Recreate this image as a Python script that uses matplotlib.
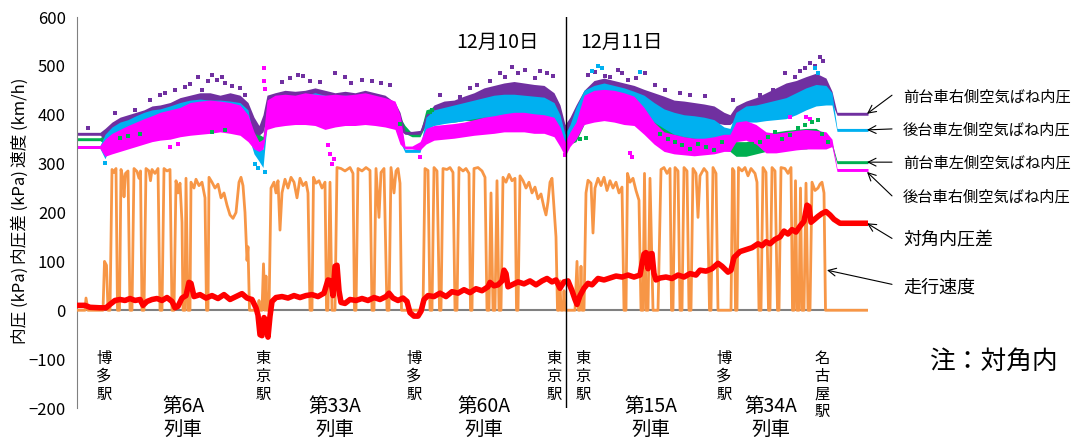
import matplotlib
matplotlib.use("Agg")
import matplotlib.pyplot as plt

plt.rcParams["font.family"] = ["Noto Sans CJK JP", "DejaVu Sans"]

# x axis = running position along the two days of service (arbitrary units)
# values on the shared y scale: km/h for speed, kPa for pressures

speed_pts = [
    (77, 0), (85, 0), (86, 25), (88, 0), (103, 0), (104.5, 100), (106.5, 92), (108, 0), (110, 0),
    (112, 288), (114, 282), (116, 290), (117.5, 0), (119.5, 0), (121, 288), (123, 270), (124, 232),
    (125.5, 280), (128, 285), (130, 0), (132, 0), (134, 290), (137, 284), (139, 270), (140.5, 285),
    (142, 0), (144, 0), (146, 290), (149, 285), (150.5, 265), (152, 288), (155, 280), (158, 290),
    (160, 0), (162, 0), (164, 290), (167, 285), (170, 288), (172, 0), (174, 0), (176, 265), (178, 240),
    (180, 260), (182, 180), (183, 0), (185, 0), (186, 270), (188, 0), (190, 0), (191, 262), (194, 250),
    (196, 268), (199, 255), (202, 262), (205, 230), (206.5, 0), (208, 0), (209, 272), (212, 262),
    (215, 250), (218, 258), (221, 230), (224, 240), (227, 215), (230, 195), (233, 188), (236, 200),
    (239, 262), (241, 272), (243, 255), (245, 200), (247, 102), (248, 130), (249.5, 0), (258, 0),
    (259, 20), (260, 0), (262, 0), (263.5, 95), (265, 0), (266, 70), (267, 0), (269, 0),
    (271, 250), (274, 262), (276, 240), (278, 265), (280, 164), (282, 240), (285, 268), (288, 250),
    (291, 272), (294, 262), (297, 230), (300, 270), (303, 255), (306, 262), (308, 240), (310, 0),
    (312, 0), (313.5, 272), (316, 260), (319, 265), (322, 250), (325, 262), (326.5, 0), (328, 0),
    (330, 262), (332, 0), (335, 0), (337, 292), (341, 290), (345, 285), (350, 292), (353, 280),
    (354.5, 0), (356, 0), (358, 290), (362, 285), (366, 292), (370, 286), (372, 0), (374, 0),
    (376, 290), (379, 190), (381, 282), (384, 290), (387, 0), (389, 0), (391, 292), (394, 240),
    (396, 285), (398, 290), (400, 260), (401.5, 0), (423, 0),
    (425, 290), (428, 286), (430, 0), (432, 0), (434, 292), (437, 285), (439.5, 0), (441, 0),
    (443, 290), (447, 288), (450, 292), (453, 282), (455, 0), (457, 0), (459, 292), (463, 285),
    (466, 290), (469, 280), (470.5, 0), (472, 0), (474, 290), (478, 292), (482, 285), (485, 272),
    (487, 0), (489, 0), (491, 240), (493, 0), (495, 0), (497, 265), (499, 0), (501, 0), (503, 272),
    (506, 262), (509, 278), (512, 265), (515, 270), (516.5, 0), (518, 0), (520, 275), (523, 265),
    (526, 250), (529, 262), (532, 240), (535, 252), (538, 228), (541, 238), (544, 210), (546, 195),
    (548, 222), (550, 262), (552, 270), (554, 210), (556, 150), (557.5, 0), (559, 0), (560, 60),
    (561, 0), (563, 0), (564, 40), (565, 0), (575, 0),
    (577, 100), (578.5, 0), (580, 0), (581, 90), (582, 0), (584, 0), (586, 240), (588, 266),
    (591, 260), (593, 158), (595, 250), (598, 270), (601, 255), (604, 272), (607, 245), (610, 265),
    (613, 250), (616, 262), (619, 240), (622, 252), (624, 0), (626, 0), (627.5, 280), (630, 262),
    (633, 270), (636, 245), (639, 225), (641, 0), (643, 0), (644.5, 280), (646, 0), (648, 0),
    (650, 270), (653, 0), (658, 0), (661, 288), (664, 292), (667, 280), (670, 290), (671.5, 0),
    (673, 0), (675, 292), (678, 285), (680, 0), (682, 0), (684, 292), (687, 285), (689, 0), (691, 0),
    (693, 290), (696, 280), (698, 190), (700, 275), (704, 290), (707, 282), (709.5, 0), (711, 0),
    (713, 292), (716, 280), (718, 0), (731, 0),
    (732.5, 290), (734, 285), (735.5, 0), (737, 0), (738.5, 292), (742, 285), (745, 292), (748, 275),
    (751, 290), (755, 280), (757, 262), (759, 0), (761, 0), (763, 292), (766, 282), (768.5, 0),
    (770, 0), (772, 292), (775, 285), (777.5, 0), (779, 0), (781, 292), (785, 290), (788, 280),
    (791, 292), (792.5, 0), (794, 0), (795.5, 265), (797, 0), (799, 0), (800.5, 250), (802, 0),
    (804, 0), (806, 260), (808, 0), (810, 0), (812, 262), (815, 245), (818, 250), (820, 258),
    (822, 262), (824, 240), (825.5, 0), (868, 0),
]

diag_pts = [
    (77, 10), (85, 10), (90, 6), (100, 5), (106, 5), (110, 12), (115, 20), (120, 22), (125, 20),
    (130, 24), (135, 20), (140, 22), (143, 10), (147, 18), (152, 22), (157, 24), (162, 20), (167, 26),
    (172, 18), (175, 5), (178, 8), (182, 25), (186, 30), (189, 57), (191, 55), (194, 28), (200, 32),
    (206, 25), (212, 30), (218, 24), (224, 32), (230, 22), (236, 28), (242, 34), (247, 25), (252, 22),
    (256, 5), (258, -10), (260, -50), (262, -52), (264, -15), (266, -22), (268, -55), (270, -12),
    (272, 18), (276, 26), (282, 28), (288, 25), (294, 30), (300, 26), (306, 30), (312, 32), (318, 28),
    (324, 35), (328, 62), (331, 60), (333, 30), (335, 90), (337, 92), (339, 40), (341, 16), (345, 14),
    (350, 22), (356, 20), (362, 24), (368, 20), (374, 26), (380, 22), (386, 28), (389, 35), (393, 25),
    (398, 20), (403, 25), (407, 18), (410, -5), (414, -12), (418, -12), (421, -2), (424, 22), (428, 30),
    (434, 28), (440, 35), (446, 28), (452, 38), (458, 35), (464, 42), (470, 36), (476, 44), (482, 40),
    (488, 48), (490, 57), (494, 50), (498, 52), (502, 60), (504, 82), (506, 75), (508, 48), (512, 52),
    (518, 58), (524, 54), (530, 60), (536, 52), (542, 60), (547, 65), (552, 58), (556, 62), (560, 45),
    (564, 58), (568, 60), (572, 40), (575, 22), (577, 12), (580, 30), (584, 45), (588, 55), (592, 52),
    (598, 65), (604, 62), (610, 66), (616, 70), (622, 68), (628, 72), (634, 68), (640, 72), (642, 95),
    (644, 115), (646, 118), (648, 85), (650, 115), (652, 116), (654, 75), (656, 62), (660, 66),
    (666, 68), (672, 65), (678, 72), (684, 68), (690, 75), (696, 72), (700, 82), (706, 80), (712, 85),
    (718, 96), (722, 90), (728, 78), (731, 82), (734, 108), (740, 120), (746, 124), (752, 128),
    (758, 136), (762, 132), (766, 140), (770, 136), (775, 145), (780, 150), (784, 162), (788, 156),
    (792, 165), (796, 160), (800, 172), (804, 182), (807, 215), (809, 212), (811, 180), (814, 185),
    (818, 192), (822, 198), (826, 202), (830, 195), (834, 186), (840, 178), (868, 178),
]

# air spring pressure clouds: (x, low, high)
purple_band = [
    (77, 358, 364), (100, 358, 364), (105, 350, 372), (112, 355, 385), (120, 360, 395), (128, 365, 400),
    (136, 370, 405), (144, 375, 410), (152, 378, 418), (160, 382, 420), (170, 385, 425), (180, 390, 435),
    (190, 392, 440), (200, 395, 445), (210, 395, 445), (220, 398, 440), (230, 395, 445), (240, 390, 440),
    (248, 375, 425), (254, 362, 395), (259, 358, 378), (263, 365, 400), (267, 395, 440), (275, 400, 445),
    (285, 400, 450), (295, 402, 448), (305, 400, 450), (315, 402, 455), (325, 400, 450), (335, 398, 445),
    (345, 400, 448), (355, 398, 445), (365, 400, 450), (375, 398, 445), (385, 392, 440), (395, 385, 425),
    (400, 368, 405), (405, 360, 366), (412, 360, 366), (420, 360, 368), (426, 380, 400), (434, 392, 420),
    (444, 395, 428), (454, 398, 430), (464, 400, 438), (474, 405, 445), (484, 408, 455), (494, 410, 460),
    (504, 412, 465), (514, 412, 468), (524, 410, 465), (534, 410, 462), (544, 408, 460), (554, 400, 445),
    (560, 380, 420), (565, 345, 380), (570, 365, 395), (576, 390, 420), (584, 410, 450), (594, 420, 470),
    (604, 420, 475), (614, 418, 470), (624, 415, 465), (634, 410, 460), (644, 405, 452), (654, 400, 445),
    (664, 395, 438), (674, 392, 430), (684, 390, 428), (694, 388, 425), (704, 386, 422), (714, 384, 418),
    (724, 380, 405), (730, 380, 400), (736, 390, 418), (746, 395, 428), (756, 398, 435), (766, 400, 445),
    (776, 405, 455), (786, 410, 465), (796, 415, 470), (806, 420, 478), (816, 425, 485), (826, 425, 475),
    (832, 424, 448), (837, 399, 405), (868, 399, 405),
]
cyan_band = [
    (77, 331, 337), (100, 331, 337), (105, 310, 360), (112, 345, 375), (120, 355, 385), (128, 360, 390),
    (136, 365, 398), (144, 370, 405), (152, 372, 410), (160, 375, 412), (170, 378, 418), (180, 380, 425),
    (190, 382, 430), (200, 385, 432), (210, 385, 430), (220, 385, 430), (230, 382, 428), (240, 378, 425),
    (248, 360, 410), (254, 320, 345), (259, 305, 330), (263, 292, 330), (267, 380, 420), (275, 390, 435),
    (285, 392, 440), (295, 390, 438), (305, 392, 440), (315, 392, 445), (325, 390, 440), (335, 388, 438),
    (345, 390, 440), (355, 388, 438), (365, 390, 440), (375, 388, 435), (385, 385, 430), (395, 375, 420),
    (400, 345, 390), (405, 323, 329), (412, 323, 329), (420, 323, 332), (426, 370, 395), (434, 378, 410),
    (444, 382, 415), (454, 385, 420), (464, 388, 425), (474, 392, 430), (484, 395, 435), (494, 395, 440),
    (504, 398, 442), (514, 398, 442), (524, 396, 440), (534, 395, 438), (544, 395, 436), (554, 385, 425),
    (560, 360, 400), (565, 325, 360), (570, 350, 380), (576, 380, 415), (584, 400, 450), (594, 405, 460),
    (604, 405, 465), (614, 405, 460), (624, 400, 455), (634, 398, 448), (644, 392, 440), (654, 385, 425),
    (664, 372, 412), (674, 360, 405), (684, 355, 400), (694, 352, 398), (704, 350, 395), (714, 348, 390),
    (724, 346, 375), (730, 346, 372), (736, 375, 405), (746, 385, 418), (756, 385, 420), (766, 388, 425),
    (776, 390, 430), (786, 392, 435), (796, 400, 445), (806, 410, 455), (816, 418, 462), (826, 420, 460),
    (832, 420, 445), (837, 366, 372), (868, 366, 372),
]
green_band = [
    (77, 347, 353), (100, 347, 353), (105, 340, 360), (112, 345, 368), (120, 350, 375), (128, 352, 380),
    (136, 355, 385), (144, 358, 390), (152, 360, 395), (160, 362, 398), (170, 362, 400), (180, 365, 405),
    (190, 368, 410), (200, 370, 410), (210, 368, 412), (220, 370, 410), (230, 372, 412), (240, 368, 408),
    (248, 355, 395), (254, 345, 375), (259, 345, 360), (263, 340, 355), (267, 380, 420), (275, 385, 430),
    (285, 385, 430), (295, 385, 430), (305, 385, 430), (315, 385, 430), (325, 385, 430), (335, 385, 430),
    (345, 385, 430), (355, 385, 430), (365, 385, 430), (375, 385, 430), (385, 385, 425), (395, 375, 420),
    (400, 368, 395), (405, 362, 378), (412, 355, 362), (420, 355, 362), (426, 380, 410), (434, 385, 415),
    (444, 385, 420), (454, 385, 420), (464, 388, 422), (474, 388, 425), (484, 390, 428), (494, 390, 428),
    (504, 390, 430), (514, 390, 430), (524, 390, 430), (534, 390, 428), (544, 388, 425), (554, 380, 418),
    (560, 360, 395), (565, 335, 360), (570, 340, 365), (576, 345, 370), (584, 380, 420), (594, 395, 440),
    (604, 395, 440), (614, 395, 440), (624, 395, 438), (634, 392, 435), (644, 385, 420), (654, 370, 400),
    (664, 360, 385), (674, 345, 375), (684, 335, 365), (694, 330, 362), (704, 330, 360), (714, 330, 360),
    (724, 328, 358), (730, 325, 350), (736, 315, 345), (746, 315, 345), (756, 320, 350), (766, 325, 360),
    (776, 330, 365), (786, 330, 368), (796, 330, 370), (806, 330, 372), (816, 335, 372), (826, 335, 360),
    (832, 335, 342), (837, 300, 306), (868, 300, 306),
]
magenta_band = [
    (77, 331, 337), (100, 331, 337), (105, 315, 350), (112, 320, 362), (120, 325, 370), (128, 330, 378),
    (136, 335, 385), (144, 340, 392), (152, 345, 398), (160, 348, 405), (170, 350, 410), (180, 355, 415),
    (190, 358, 425), (200, 360, 428), (210, 362, 430), (220, 365, 428), (230, 362, 425), (240, 358, 420),
    (248, 345, 400), (254, 330, 365), (259, 325, 345), (263, 330, 350), (267, 370, 430), (275, 375, 440),
    (285, 378, 442), (295, 380, 440), (305, 380, 445), (315, 378, 442), (325, 370, 440), (335, 375, 442),
    (345, 378, 440), (355, 378, 442), (365, 380, 445), (375, 378, 440), (385, 375, 435), (395, 370, 428),
    (400, 340, 400), (405, 330, 336), (412, 330, 336), (420, 328, 345), (426, 340, 372), (434, 348, 378),
    (444, 350, 380), (454, 352, 382), (464, 355, 385), (474, 358, 390), (484, 360, 395), (494, 362, 398),
    (504, 365, 402), (514, 365, 405), (524, 365, 405), (534, 362, 402), (544, 362, 400), (554, 355, 395),
    (560, 335, 375), (565, 315, 345), (570, 335, 365), (576, 350, 385), (584, 380, 440), (594, 385, 450),
    (604, 388, 452), (614, 385, 450), (624, 380, 445), (634, 378, 438), (644, 360, 415), (654, 340, 385),
    (664, 325, 365), (674, 320, 360), (684, 318, 355), (694, 316, 352), (704, 318, 352), (714, 320, 355),
    (724, 325, 360), (730, 325, 360), (736, 345, 385), (746, 348, 388), (756, 340, 380), (766, 322, 365),
    (776, 322, 362), (786, 325, 365), (796, 328, 368), (806, 330, 370), (816, 330, 368), (826, 330, 365),
    (832, 335, 350), (837, 284, 290), (868, 284, 290),
]

# isolated readings outside the main clouds
purple_dots = [(88, 372), (115, 404), (135, 410), (150, 430), (160, 440), (165, 445), (175, 450),
               (185, 457), (190, 462), (198, 477), (202, 451), (208, 470), (212, 482), (217, 471),
               (222, 478), (225, 465), (232, 458), (240, 455), (245, 440), (282, 468), (290, 475),
               (298, 482), (303, 480), (310, 470), (320, 468), (335, 485), (345, 478), (351, 465),
               (362, 472), (372, 470), (381, 465), (390, 460), (440, 440), (460, 437), (470, 455),
               (477, 461), (490, 470), (500, 485), (505, 478), (512, 498), (518, 485), (525, 492),
               (535, 475), (540, 490), (547, 485), (553, 480), (588, 482), (595, 488), (605, 480),
               (610, 478), (618, 492), (622, 485), (628, 471), (636, 475), (645, 485), (655, 460),
               (665, 450), (680, 445), (690, 440), (705, 438), (733, 430), (760, 440), (773, 451),
               (785, 485), (795, 478), (800, 490), (805, 495), (810, 506), (815, 500), (820, 518),
               (823, 510)]
cyan_dots = [(105, 302), (255, 300), (258, 292), (265, 282), (592, 490), (598, 500), (602, 495),
             (640, 488), (815, 495), (818, 485)]
green_dots = [(120, 352), (128, 356), (140, 360), (212, 365), (225, 368), (400, 382), (430, 405),
              (432, 410), (580, 350), (586, 352), (660, 360), (668, 350), (675, 345), (682, 338),
              (690, 330), (698, 340), (706, 335), (714, 328), (722, 345), (745, 330), (752, 340),
              (760, 345), (768, 355), (775, 365), (782, 350), (790, 358), (798, 372), (805, 380),
              (812, 385), (818, 390), (822, 360), (828, 345)]
magenta_dots = [(170, 335), (178, 340), (264, 496), (264, 470), (265, 452), (328, 338), (330, 320),
                (332, 300), (334, 310), (420, 314), (565, 318), (630, 322), (632, 313), (790, 395),
                (806, 395), (810, 392)]

day_labels = ["12月10日", "12月11日"]
day_x = [497, 622]
day_break_x = 566

stations = ["博多駅", "東京駅", "博多駅", "東京駅", "東京駅", "博多駅", "名古屋駅"]
station_x = [104, 263, 414, 554, 583, 724, 822]
trains = ["第6A\n列車", "第33A\n列車", "第60A\n列車", "第15A\n列車", "第34A\n列車"]
train_x = [183, 335, 484, 651, 771]

series_names = ["前台車右側空気ばね内圧", "後台車左側空気ばね内圧", "前台車左側空気ばね内圧",
                "後台車右側空気ばね内圧", "対角内圧差", "走行速度"]

fig = plt.figure(figsize=(10.72, 4.4), dpi=100)
ax = fig.add_axes([77 / 1072, 32 / 440, 791 / 1072, 391 / 440])


def band(pts, color, z):
    xs = [p[0] for p in pts]
    lo = [p[1] for p in pts]
    hi = [p[2] for p in pts]
    ax.fill_between(xs, lo, hi, color=color, lw=0, zorder=z)


def dots(pts, color, z):
    ax.scatter([p[0] for p in pts], [p[1] for p in pts], marker="s", s=10, color=color,
               lw=0, zorder=z)


# green mostly sits under the other three clouds
band(green_band, "#00B050", 1.9)
band(purple_band, "#7030A0", 2.0)
dots(purple_dots, "#7030A0", 2.05)
band(cyan_band, "#00B0F0", 2.1)
dots(cyan_dots, "#00B0F0", 2.15)
band(magenta_band, "#FF00FF", 2.3)
dots(magenta_dots, "#FF00FF", 2.35)
dots(green_dots, "#00B050", 2.4)

sx = [p[0] for p in speed_pts]
sv = [p[1] for p in speed_pts]
ax.plot(sx, sv, color="#F79646", lw=2, zorder=3)

dx = [p[0] for p in diag_pts]
dv = [p[1] for p in diag_pts]
ax.plot(dx, dv, color="#FF0000", lw=4, solid_joinstyle="round", zorder=4)

ax.axhline(0, color="#808080", lw=1.5, zorder=1)
ax.axvline(day_break_x, color="black", lw=1, zorder=5)

ax.set_xlim(77, 868)
ax.set_ylim(-200, 600)
ax.set_yticks(range(-200, 601, 100))
ax.set_xticks([])
ax.tick_params(axis="y", length=0, pad=8, labelsize=12)
for s in ["top", "right", "bottom"]:
    ax.spines[s].set_visible(False)
ax.spines["left"].set_color("#808080")

# y-axis captions
fig.text(20 / 1072, 1 - 122 / 440, "速度 (km/h)", rotation=90, ha="center", va="center", fontsize=12)
fig.text(20 / 1072, 1 - 217 / 440, "内圧差 (kPa)", rotation=90, ha="center", va="center", fontsize=12)
fig.text(20 / 1072, 1 - 305 / 440, "内圧 (kPa)", rotation=90, ha="center", va="center", fontsize=12)

for lab, x in zip(day_labels, day_x):
    ax.text(x, 549, lab, ha="center", va="center", fontsize=14)

for lab, x in zip(stations, station_x):
    ax.text(x, -82, "\n".join(lab), ha="center", va="top", fontsize=11, linespacing=1.05)

for lab, x in zip(trains, train_x):
    ax.text(x, -220, lab, ha="center", va="center", fontsize=14, linespacing=1.15)

fig.text(930 / 1072, 1 - 362 / 440, "注：対角内", ha="left", va="center", fontsize=18.5)

# labels on the right with arrows to the line ends
label_y = [436, 369, 301, 232, 143, 47]
arrow_tail = [(892, 440), (892, 371), (892, 303), (892, 234), (892, 147), (892, 53)]
arrow_head = [(867, 402), (867, 369), (867, 303), (867, 283), (867, 178), (827, 82)]
label_size = [11, 11, 11, 11, 13, 13]
for name, ly, tail, head, fs in zip(series_names, label_y, arrow_tail, arrow_head, label_size):
    ax.text(903, ly, name, ha="left", va="center", fontsize=fs, clip_on=False)
    ax.annotate("", xy=head, xytext=tail, annotation_clip=False,
                arrowprops=dict(arrowstyle="->", color="black", lw=0.8,
                                shrinkA=0, shrinkB=0, mutation_scale=14))

fig.savefig("out.png", dpi=100)
